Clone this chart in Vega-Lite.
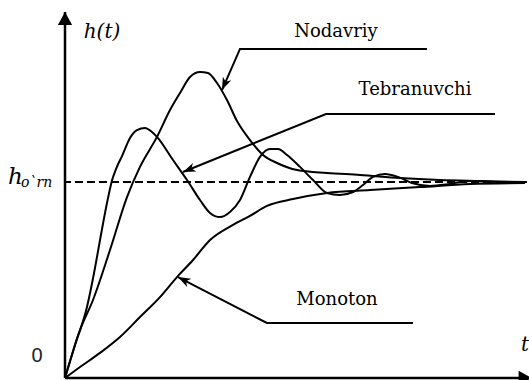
{
  "$schema": "https://vega.github.io/schema/vega-lite/v6.json",
  "width": 462,
  "height": 366,
  "autosize": {"type": "none"},
  "padding": {"left": 65, "top": 12, "right": 2, "bottom": 2},
  "background": "white",
  "config": {"view": {"stroke": null}, "font": "DejaVu Serif"},
  "datasets": {
    "curves": [
      {"series": "Tebranuvchi", "t": 0, "h": 0},
      {"series": "Tebranuvchi", "t": 0.216, "h": 0.168},
      {"series": "Tebranuvchi", "t": 0.476, "h": 0.362},
      {"series": "Tebranuvchi", "t": 0.649, "h": 0.561},
      {"series": "Tebranuvchi", "t": 0.758, "h": 0.704},
      {"series": "Tebranuvchi", "t": 0.931, "h": 0.918},
      {"series": "Tebranuvchi", "t": 1.02, "h": 1.01},
      {"series": "Tebranuvchi", "t": 1.12, "h": 1.075},
      {"series": "Tebranuvchi", "t": 1.234, "h": 1.132},
      {"series": "Tebranuvchi", "t": 1.407, "h": 1.225},
      {"series": "Tebranuvchi", "t": 1.558, "h": 1.265},
      {"series": "Tebranuvchi", "t": 1.732, "h": 1.276},
      {"series": "Tebranuvchi", "t": 1.883, "h": 1.255},
      {"series": "Tebranuvchi", "t": 1.991, "h": 1.23},
      {"series": "Tebranuvchi", "t": 2.338, "h": 1.112},
      {"series": "Tebranuvchi", "t": 2.641, "h": 1.01},
      {"series": "Tebranuvchi", "t": 2.922, "h": 0.908},
      {"series": "Tebranuvchi", "t": 3.139, "h": 0.842},
      {"series": "Tebranuvchi", "t": 3.355, "h": 0.821},
      {"series": "Tebranuvchi", "t": 3.571, "h": 0.847},
      {"series": "Tebranuvchi", "t": 3.788, "h": 0.908},
      {"series": "Tebranuvchi", "t": 4.004, "h": 1.026},
      {"series": "Tebranuvchi", "t": 4.221, "h": 1.128},
      {"series": "Tebranuvchi", "t": 4.437, "h": 1.168},
      {"series": "Tebranuvchi", "t": 4.61, "h": 1.168},
      {"series": "Tebranuvchi", "t": 4.805, "h": 1.138},
      {"series": "Tebranuvchi", "t": 5.087, "h": 1.077},
      {"series": "Tebranuvchi", "t": 5.368, "h": 1.01},
      {"series": "Tebranuvchi", "t": 5.671, "h": 0.944},
      {"series": "Tebranuvchi", "t": 5.952, "h": 0.934},
      {"series": "Tebranuvchi", "t": 6.234, "h": 0.949},
      {"series": "Tebranuvchi", "t": 6.45, "h": 0.985},
      {"series": "Tebranuvchi", "t": 6.667, "h": 1.026},
      {"series": "Tebranuvchi", "t": 6.926, "h": 1.041},
      {"series": "Tebranuvchi", "t": 7.208, "h": 1.026},
      {"series": "Tebranuvchi", "t": 7.511, "h": 0.995},
      {"series": "Tebranuvchi", "t": 7.9, "h": 0.98},
      {"series": "Tebranuvchi", "t": 8.333, "h": 0.99},
      {"series": "Tebranuvchi", "t": 8.766, "h": 1.005},
      {"series": "Tebranuvchi", "t": 9.416, "h": 1.0},
      {"series": "Tebranuvchi", "t": 9.957, "h": 1.0},

      {"series": "Nodavriy", "t": 0, "h": 0},
      {"series": "Nodavriy", "t": 0.325, "h": 0.245},
      {"series": "Nodavriy", "t": 0.606, "h": 0.398},
      {"series": "Nodavriy", "t": 0.974, "h": 0.653},
      {"series": "Nodavriy", "t": 1.342, "h": 0.923},
      {"series": "Nodavriy", "t": 1.623, "h": 1.077},
      {"series": "Nodavriy", "t": 1.991, "h": 1.23},
      {"series": "Nodavriy", "t": 2.273, "h": 1.367},
      {"series": "Nodavriy", "t": 2.489, "h": 1.454},
      {"series": "Nodavriy", "t": 2.706, "h": 1.536},
      {"series": "Nodavriy", "t": 2.922, "h": 1.561},
      {"series": "Nodavriy", "t": 3.095, "h": 1.556},
      {"series": "Nodavriy", "t": 3.29, "h": 1.505},
      {"series": "Nodavriy", "t": 3.506, "h": 1.418},
      {"series": "Nodavriy", "t": 3.723, "h": 1.311},
      {"series": "Nodavriy", "t": 4.004, "h": 1.214},
      {"series": "Nodavriy", "t": 4.286, "h": 1.138},
      {"series": "Nodavriy", "t": 4.589, "h": 1.097},
      {"series": "Nodavriy", "t": 5.022, "h": 1.061},
      {"series": "Nodavriy", "t": 5.671, "h": 1.046},
      {"series": "Nodavriy", "t": 6.385, "h": 1.036},
      {"series": "Nodavriy", "t": 7.251, "h": 1.02},
      {"series": "Nodavriy", "t": 8.117, "h": 1.01},
      {"series": "Nodavriy", "t": 8.983, "h": 1.005},
      {"series": "Nodavriy", "t": 9.957, "h": 1.0},

      {"series": "Monoton", "t": 0, "h": 0},
      {"series": "Monoton", "t": 0.325, "h": 0.056},
      {"series": "Monoton", "t": 0.758, "h": 0.128},
      {"series": "Monoton", "t": 1.19, "h": 0.209},
      {"series": "Monoton", "t": 1.623, "h": 0.311},
      {"series": "Monoton", "t": 2.056, "h": 0.413},
      {"series": "Monoton", "t": 2.424, "h": 0.515},
      {"series": "Monoton", "t": 2.771, "h": 0.602},
      {"series": "Monoton", "t": 3.139, "h": 0.704},
      {"series": "Monoton", "t": 3.636, "h": 0.781},
      {"series": "Monoton", "t": 4.004, "h": 0.827},
      {"series": "Monoton", "t": 4.372, "h": 0.878},
      {"series": "Monoton", "t": 4.935, "h": 0.913},
      {"series": "Monoton", "t": 5.671, "h": 0.944},
      {"series": "Monoton", "t": 6.602, "h": 0.959},
      {"series": "Monoton", "t": 7.684, "h": 0.974},
      {"series": "Monoton", "t": 8.766, "h": 0.99},
      {"series": "Monoton", "t": 9.957, "h": 0.995}
    ],
    "pointers": [
      {"series": "Nodavriy", "t": 3.398, "h": 1.469},
      {"series": "Nodavriy", "t": 3.788, "h": 1.679},
      {"series": "Nodavriy", "t": 7.835, "h": 1.679},
      {"series": "Tebranuvchi", "t": 2.554, "h": 1.051},
      {"series": "Tebranuvchi", "t": 5.649, "h": 1.347},
      {"series": "Tebranuvchi", "t": 9.307, "h": 1.347},
      {"series": "Monoton", "t": 2.446, "h": 0.515},
      {"series": "Monoton", "t": 4.37, "h": 0.281},
      {"series": "Monoton", "t": 7.532, "h": 0.281}
    ],
    "tips": [
      {"series": "Nodavriy", "t": 3.398, "h": 1.469},
      {"series": "Tebranuvchi", "t": 2.554, "h": 1.051},
      {"series": "Monoton", "t": 2.446, "h": 0.515}
    ],
    "labels": [
      {"kind": "curve", "text": "Nodavriy", "t": 5.866, "h": 1.74},
      {"kind": "curve", "text": "Tebranuvchi", "t": 7.576, "h": 1.444},
      {"kind": "curve", "text": "Monoton", "t": 5.887, "h": 0.372},
      {"kind": "axis", "text": "h(t)", "t": 0.801, "h": 1.735},
      {"kind": "axis", "text": "t", "t": 9.957, "h": 0.138},
      {"kind": "origin", "text": "0", "t": -0.606, "h": 0.082},
      {"kind": "level", "text": "h", "t": -1.234, "h": 0.99},
      {"kind": "level-sub", "text": "o`rn", "t": -0.952, "h": 0.974}
    ]
  },
  "layer": [
    {
      "description": "steady-state level h_o'rn",
      "data": {"values": [{"level": 1}]},
      "mark": {"type": "rule", "color": "black", "strokeWidth": 2, "strokeDash": [8, 4]},
      "encoding": {
        "y": {"field": "level", "type": "quantitative", "scale": {"domain": [0, 1.8673], "nice": false, "zero": false}, "axis": null}
      }
    },
    {
      "description": "vertical h(t) axis",
      "data": {"values": [{"t": 0}]},
      "mark": {"type": "rule", "color": "black", "strokeWidth": 2.5},
      "encoding": {
        "x": {"field": "t", "type": "quantitative", "scale": {"domain": [0, 10], "nice": false, "zero": false}, "axis": null}
      }
    },
    {
      "description": "horizontal t axis",
      "data": {"values": [{"h": 0}]},
      "mark": {"type": "rule", "color": "black", "strokeWidth": 2.5},
      "encoding": {
        "y": {"field": "h", "type": "quantitative", "scale": {"domain": [0, 1.8673], "nice": false, "zero": false}, "axis": null}
      }
    },
    {
      "description": "arrowhead on the h(t) axis",
      "data": {"values": [{"t": 0, "h": 1.8673}]},
      "mark": {"type": "point", "shape": "M0,0L0.55,1L-0.55,1Z", "size": 676, "filled": true, "color": "black", "opacity": 1, "angle": 0},
      "encoding": {
        "x": {"field": "t", "type": "quantitative", "scale": {"domain": [0, 10], "nice": false, "zero": false}, "axis": null},
        "y": {"field": "h", "type": "quantitative", "scale": {"domain": [0, 1.8673], "nice": false, "zero": false}, "axis": null}
      }
    },
    {
      "description": "arrowhead on the t axis",
      "data": {"values": [{"t": 10.1, "h": 0}]},
      "mark": {"type": "point", "shape": "M0,0L0.55,1L-0.55,1Z", "size": 676, "filled": true, "color": "black", "opacity": 1, "angle": 90},
      "encoding": {
        "x": {"field": "t", "type": "quantitative", "scale": {"domain": [0, 10], "nice": false, "zero": false}, "axis": null},
        "y": {"field": "h", "type": "quantitative", "scale": {"domain": [0, 1.8673], "nice": false, "zero": false}, "axis": null}
      }
    },
    {
      "description": "step responses",
      "data": {"name": "curves"},
      "mark": {"type": "line", "color": "black", "strokeWidth": 2, "interpolate": "monotone"},
      "encoding": {
        "x": {"field": "t", "type": "quantitative", "scale": {"domain": [0, 10], "nice": false, "zero": false}, "axis": null},
        "y": {"field": "h", "type": "quantitative", "scale": {"domain": [0, 1.8673], "nice": false, "zero": false}, "axis": null},
        "detail": {"field": "series"}
      }
    },
    {
      "description": "leader lines from the captions",
      "data": {"name": "pointers"},
      "mark": {"type": "line", "color": "black", "strokeWidth": 2},
      "encoding": {
        "x": {"field": "t", "type": "quantitative", "scale": {"domain": [0, 10], "nice": false, "zero": false}, "axis": null},
        "y": {"field": "h", "type": "quantitative", "scale": {"domain": [0, 1.8673], "nice": false, "zero": false}, "axis": null},
        "detail": {"field": "series"}
      }
    },
    {
      "data": {"name": "tips"},
      "transform": [{"filter": "datum.series === 'Nodavriy'"}],
      "mark": {"type": "point", "shape": "M0,0L0.65,1.8L0,1.3L-0.65,1.8Z", "size": 196, "filled": true, "color": "black", "opacity": 1, "angle": 203.7},
      "encoding": {
        "x": {"field": "t", "type": "quantitative", "scale": {"domain": [0, 10], "nice": false, "zero": false}, "axis": null},
        "y": {"field": "h", "type": "quantitative", "scale": {"domain": [0, 1.8673], "nice": false, "zero": false}, "axis": null}
      }
    },
    {
      "data": {"name": "tips"},
      "transform": [{"filter": "datum.series === 'Tebranuvchi'"}],
      "mark": {"type": "point", "shape": "M0,0L0.65,1.8L0,1.3L-0.65,1.8Z", "size": 196, "filled": true, "color": "black", "opacity": 1, "angle": 248},
      "encoding": {
        "x": {"field": "t", "type": "quantitative", "scale": {"domain": [0, 10], "nice": false, "zero": false}, "axis": null},
        "y": {"field": "h", "type": "quantitative", "scale": {"domain": [0, 1.8673], "nice": false, "zero": false}, "axis": null}
      }
    },
    {
      "data": {"name": "tips"},
      "transform": [{"filter": "datum.series === 'Monoton'"}],
      "mark": {"type": "point", "shape": "M0,0L0.65,1.8L0,1.3L-0.65,1.8Z", "size": 196, "filled": true, "color": "black", "opacity": 1, "angle": 297.3},
      "encoding": {
        "x": {"field": "t", "type": "quantitative", "scale": {"domain": [0, 10], "nice": false, "zero": false}, "axis": null},
        "y": {"field": "h", "type": "quantitative", "scale": {"domain": [0, 1.8673], "nice": false, "zero": false}, "axis": null}
      }
    },
    {
      "description": "captions of the three responses",
      "data": {"name": "labels"},
      "transform": [{"filter": "datum.kind === 'curve'"}],
      "mark": {"type": "text", "font": "DejaVu Serif", "fontSize": 18, "color": "black", "align": "center", "baseline": "alphabetic"},
      "encoding": {
        "x": {"field": "t", "type": "quantitative", "scale": {"domain": [0, 10], "nice": false, "zero": false}, "axis": null},
        "y": {"field": "h", "type": "quantitative", "scale": {"domain": [0, 1.8673], "nice": false, "zero": false}, "axis": null},
        "text": {"field": "text"}
      }
    },
    {
      "description": "axis names h(t) and t",
      "data": {"name": "labels"},
      "transform": [{"filter": "datum.kind === 'axis'"}],
      "mark": {"type": "text", "font": "DejaVu Serif", "fontStyle": "italic", "fontSize": 20, "color": "black", "align": "center", "baseline": "alphabetic"},
      "encoding": {
        "x": {"field": "t", "type": "quantitative", "scale": {"domain": [0, 10], "nice": false, "zero": false}, "axis": null},
        "y": {"field": "h", "type": "quantitative", "scale": {"domain": [0, 1.8673], "nice": false, "zero": false}, "axis": null},
        "text": {"field": "text"}
      }
    },
    {
      "data": {"name": "labels"},
      "transform": [{"filter": "datum.kind === 'origin'"}],
      "mark": {"type": "text", "font": "Liberation Sans", "fontSize": 20, "color": "#222", "align": "center", "baseline": "alphabetic"},
      "encoding": {
        "x": {"field": "t", "type": "quantitative", "scale": {"domain": [0, 10], "nice": false, "zero": false}, "axis": null},
        "y": {"field": "h", "type": "quantitative", "scale": {"domain": [0, 1.8673], "nice": false, "zero": false}, "axis": null},
        "text": {"field": "text"}
      }
    },
    {
      "description": "h with the o`rn subscript",
      "data": {"name": "labels"},
      "transform": [{"filter": "datum.kind === 'level'"}],
      "mark": {"type": "text", "font": "DejaVu Serif", "fontStyle": "italic", "fontSize": 23, "color": "black", "align": "left", "baseline": "alphabetic"},
      "encoding": {
        "x": {"field": "t", "type": "quantitative", "scale": {"domain": [0, 10], "nice": false, "zero": false}, "axis": null},
        "y": {"field": "h", "type": "quantitative", "scale": {"domain": [0, 1.8673], "nice": false, "zero": false}, "axis": null},
        "text": {"field": "text"}
      }
    },
    {
      "data": {"name": "labels"},
      "transform": [{"filter": "datum.kind === 'level-sub'"}],
      "mark": {"type": "text", "font": "DejaVu Serif", "fontStyle": "italic", "fontSize": 14, "color": "black", "align": "left", "baseline": "alphabetic"},
      "encoding": {
        "x": {"field": "t", "type": "quantitative", "scale": {"domain": [0, 10], "nice": false, "zero": false}, "axis": null},
        "y": {"field": "h", "type": "quantitative", "scale": {"domain": [0, 1.8673], "nice": false, "zero": false}, "axis": null},
        "text": {"field": "text"}
      }
    }
  ]
}
